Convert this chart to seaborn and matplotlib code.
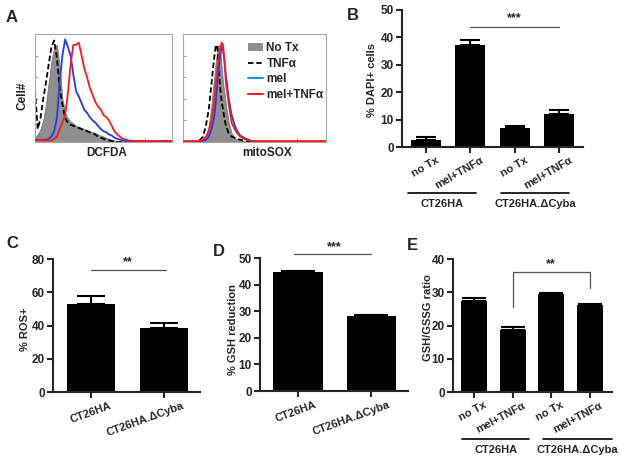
import matplotlib
matplotlib.use("Agg")
import matplotlib.pyplot as plt
import matplotlib.transforms as mtransforms
from matplotlib.patches import Patch
from matplotlib.lines import Line2D
import seaborn as sns
import pandas as pd

# ---- panel A: flow histograms (log10 fluorescence, % of max) ----
dcf_log = [0.0, 0.1, 0.2, 0.3, 0.4, 0.5, 0.6, 0.7, 0.8, 0.9, 1.0, 1.1, 1.2, 1.3, 1.4,
           1.5, 1.6, 1.7, 1.8, 1.9, 2.0, 2.1, 2.2, 2.3, 2.4, 2.5, 2.6, 2.7, 2.8, 2.9,
           3.0, 3.2, 3.4, 3.6, 3.8, 4.0, 5.0]
dcf_notx = [5, 7, 12, 20, 35, 55, 75, 88, 90, 70, 40, 27, 22, 19, 17, 15, 14, 13, 12, 11,
            10, 9, 8, 7, 6, 5, 4, 3, 2, 1.5, 1, 0.5, 0, 0, 0, 0, 0]
dcf_tnf = [48, 12, 22, 40, 55, 72, 88, 94, 78, 50, 35, 22, 18, 16, 15, 14, 13, 12, 11, 10,
           9, 8, 7, 5, 4, 3, 2, 1.5, 1, 0.5, 0, 0, 0, 0, 0, 0, 0]
dcf_mel = [2, 2, 2, 2, 2, 3, 5, 10, 22, 55, 80, 95, 88, 80, 62, 47, 42, 36, 30, 27,
           23, 20, 18, 15, 12, 10, 9, 7, 6, 4, 3, 1.5, 0.5, 0.5, 0.5, 0.5, 0.5]
dcf_meltnf = [1.5, 1.5, 1.5, 1.5, 1.5, 1.5, 1.5, 3, 5, 12, 18, 25, 45, 72, 90, 90, 92, 80,
              68, 60, 50, 44, 37, 33, 30, 25, 23, 20, 15, 10, 7, 3, 1.5, 1, 1, 1, 1]

mito_log = [0.0, 0.5, 0.6, 0.7, 0.8, 0.9, 1.0, 1.05, 1.1, 1.15, 1.2, 1.25, 1.3, 1.35, 1.4,
            1.45, 1.5, 1.6, 1.7, 1.8, 1.9, 2.0, 2.2, 2.4, 2.6, 5.0]
mito_notx = [0, 0, 1, 2, 6, 15, 35, 50, 62, 75, 85, 90, 85, 70, 55, 45, 35, 18, 8, 4, 2, 1,
             0.5, 0, 0, 0]
mito_tnf = [0, 0.5, 2, 5, 15, 30, 55, 68, 80, 90, 88, 68, 50, 38, 30, 22, 15, 8, 5, 4, 3, 2,
            1, 0.5, 0, 0]
mito_mel = [0.5, 0.5, 0.5, 1, 2, 5, 12, 18, 25, 38, 55, 68, 80, 88, 85, 75, 62, 40, 25, 16,
            10, 6, 3, 1, 0.5, 0.5]
mito_meltnf = [0.8, 0.8, 1, 2, 5, 10, 20, 30, 40, 55, 68, 78, 85, 92, 90, 75, 55, 35, 18, 12,
               8, 5, 2, 1, 0.8, 0.8]

# ---- bar panels ----
b_labels = ["no Tx", "mel+TNFα", "no Tx", "mel+TNFα"]
b_dapi = [2.7, 37.1, 6.8, 12.2]
b_err = [0.8, 1.8, 0.9, 1.2]

c_labels = ["CT26HA", "CT26HA.ΔCyba"]
c_ros = [53.0, 38.7]
c_err = [4.8, 2.6]

d_labels = ["CT26HA", "CT26HA.ΔCyba"]
d_gsh = [44.7, 28.2]
d_err = [0.5, 0.4]

e_labels = ["no Tx", "mel+TNFα", "no Tx", "mel+TNFα"]
e_ratio = [27.5, 18.6, 29.4, 26.3]
e_err = [0.8, 0.8, 0.3, 0.3]

sns.set_style("ticks")
plt.rcParams['font.family'] = ['Liberation Sans', 'DejaVu Sans']
plt.rcParams['font.weight'] = 'bold'
plt.rcParams['axes.labelweight'] = 'bold'

W, H = 621, 461
fig = plt.figure(figsize=(W / 100, H / 100), dpi=100)


def box(x0, y0, x1, y1):
    # pixel box (top-left origin) -> figure fraction
    return [x0 / W, 1 - y1 / H, (x1 - x0) / W, (y1 - y0) / H]


def hist_axes(ax):
    ax.set_xscale('log')
    ax.set_xlim(1, 1e5)
    ax.set_ylim(0, 100)
    for s in ax.spines.values():
        s.set_color('#a8a8a8')
        s.set_linewidth(0.8)
    ax.tick_params(axis='both', which='both', direction='in', length=2, width=0.6,
                   color='#888888', labelbottom=False, labelleft=False)
    ax.tick_params(axis='x', which='major', length=3)
    ax.set_yticks([0, 20, 40, 60, 80, 100])
    ax.set_ylabel('')
    ax.set_xlabel('')


def draw_hist(ax, logs, notx, tnf, mel, meltnf):
    x = [10 ** v for v in logs]
    ax.fill_between(x, 0, notx, color='#8f8f8f', lw=0.6, edgecolor='#7a7a7a', zorder=1)
    sns.lineplot(x=x, y=tnf, ax=ax, color='black', lw=1.3, linestyle=(0, (3, 1.6)),
                 estimator=None, sort=False, zorder=2)
    sns.lineplot(x=x, y=mel, ax=ax, color='#1f3cf0', lw=1.3, estimator=None, sort=False, zorder=3)
    sns.lineplot(x=x, y=meltnf, ax=ax, color='#ff1a1a', lw=1.3, estimator=None, sort=False,
                 zorder=4)
    hist_axes(ax)


axA1 = fig.add_axes(box(35, 34, 172, 142))
draw_hist(axA1, dcf_log, dcf_notx, dcf_tnf, dcf_mel, dcf_meltnf)
axA1.text(0.52, -0.10, "DCFDA", transform=axA1.transAxes, ha='center', va='center',
          fontsize=8.5, fontweight='bold')
axA1.text(-0.088, 0.43, "Cell#", transform=axA1.transAxes, ha='center', va='center',
          rotation=90, fontsize=8.5, fontweight='bold')

axA2 = fig.add_axes(box(183, 34, 326, 142))
draw_hist(axA2, mito_log, mito_notx, mito_tnf, mito_mel, mito_meltnf)
axA2.text(0.59, -0.10, "mitoSOX", transform=axA2.transAxes, ha='center', va='center',
          fontsize=8.5, fontweight='bold')
handles = [Patch(facecolor='#8f8f8f', edgecolor='none'),
           Line2D([], [], color='black', lw=1.3, linestyle=(0, (3, 1.6))),
           Line2D([], [], color='#1a8fe0', lw=1.5),
           Line2D([], [], color='#ff1a1a', lw=1.5)]
axA2.legend(handles, ["No Tx", "TNFα", "mel", "mel+TNFα"], loc='upper left',
            bbox_to_anchor=(0.41, 0.98), frameon=False, handlelength=1.3,
            handleheight=0.6, handletextpad=0.3, labelspacing=0.3, borderpad=0,
            prop={'weight': 'bold', 'size': 8.5})


def bar_axes(ax, values, errs, labels, ymax, ystep, xlim, width, cap, rot, dx):
    df = pd.DataFrame({'pos': list(range(len(values))), 'val': values})
    sns.barplot(data=df, x='pos', y='val', color='black', width=width, linewidth=0,
                saturation=1, ax=ax, errorbar=None)
    ax.errorbar(df['pos'], df['val'], yerr=[[0] * len(errs), errs], fmt='none',
                ecolor='black', elinewidth=1.5, capsize=cap, capthick=1.5, zorder=5)
    ax.set_xlim(*xlim)
    ax.set_ylim(0, ymax)
    ax.set_yticks(list(range(0, ymax + 1, ystep)))
    ax.set_yticklabels([str(v) for v in range(0, ymax + 1, ystep)], fontsize=8.5,
                       fontweight='bold')
    ax.set_xlabel('')
    ax.set_ylabel('')
    sns.despine(ax=ax)
    for s in ('left', 'bottom'):
        ax.spines[s].set_linewidth(1.5)
    ax.tick_params(axis='both', length=4, width=1.5, pad=2)
    ax.set_xticks(range(len(labels)))
    ax.set_xticklabels(labels, rotation=rot, ha='right', rotation_mode='anchor',
                       fontsize=8, fontweight='bold')
    off = mtransforms.ScaledTranslation(dx / 72, 0, fig.dpi_scale_trans)
    for t in ax.get_xticklabels():
        t.set_transform(t.get_transform() + off)


def group_line(ax, x0, x1, yl, yt, label):
    tr = ax.get_xaxis_transform()
    ax.plot([x0, x1], [yl, yl], color='black', lw=1.2, transform=tr, clip_on=False)
    ax.text((x0 + x1) / 2, yt, label, transform=tr, ha='center', va='center',
            fontsize=8, fontweight='bold')


def ylab(ax, text, x, y):
    ax.text(x, y, text, transform=ax.transAxes, rotation=90, ha='center', va='center',
            fontsize=8, fontweight='bold')


# B
axB = fig.add_axes(box(402, 10, 583, 147))
bar_axes(axB, b_dapi, b_err, b_labels, 50, 10, (-0.54, 3.54), 0.68, 7.5, 30, 7)
ylab(axB, "% DAPI+ cells", -0.166, 0.49)
axB.plot([1, 3], [43.9, 43.9], color='#555555', lw=0.9)
axB.text(2, 45.0, "***", ha='center', va='bottom', fontsize=9)
group_line(axB, -0.41, 1.13, -0.336, -0.416, "CT26HA")
group_line(axB, 1.69, 3.23, -0.336, -0.416, "CT26HA.ΔCyba")

# C
axC = fig.add_axes(box(53, 259, 200, 392))
bar_axes(axC, c_ros, c_err, c_labels, 80, 20, (-0.52, 1.49), 0.66, 10, 20, 13)
ylab(axC, "% ROS+", -0.19, 0.47)
axC.plot([0, 1.03], [73.4, 73.4], color='#555555', lw=0.9)
axC.text(0.5, 74.3, "**", ha='center', va='bottom', fontsize=9)

# D
axD = fig.add_axes(box(260, 258, 408, 391))
bar_axes(axD, d_gsh, d_err, d_labels, 50, 10, (-0.517, 1.50), 0.67, 12, 20, 12)
ylab(axD, "% GSH reduction", -0.18, 0.46)
axD.plot([-0.05, 1.0], [51.5, 51.5], color='#555555', lw=0.9, clip_on=False)
axD.text(0.5, 52.0, "***", ha='center', va='bottom', fontsize=9, clip_on=False)

# E
axE = fig.add_axes(box(453, 259, 612, 392))
bar_axes(axE, e_ratio, e_err, e_labels, 40, 10, (-0.545, 3.58), 0.675, 8.5, 28, 7)
ylab(axE, "GSH/GSSG ratio", -0.16, 0.56)
axE.plot([1, 1, 3, 3], [25.6, 36.1, 36.1, 31.4], color='#555555', lw=0.9)
axE.text(2, 36.6, "**", ha='center', va='bottom', fontsize=9)
group_line(axE, -0.31, 1.43, -0.353, -0.436, "CT26HA")
group_line(axE, 1.79, 3.58, -0.353, -0.436, "CT26HA.ΔCyba")

# panel letters
for letter, (px, py) in {"A": (12, 17), "B": (353, 15), "C": (12, 243),
                         "D": (219, 251), "E": (412, 245)}.items():
    fig.text(px / W, 1 - py / H, letter, ha='center', va='center', fontsize=12,
             fontweight='bold')

fig.savefig("out.png", dpi=100)
